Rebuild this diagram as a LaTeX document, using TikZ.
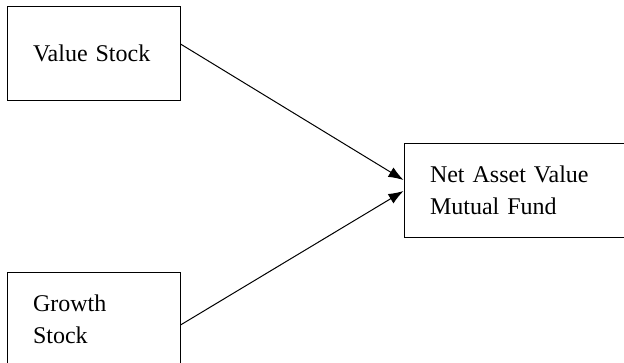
\documentclass[tikz,border=0pt]{standalone}
\usepackage{fontspec}
\setmainfont{Liberation Serif}
\usetikzlibrary{arrows.meta}

\tikzset{
    stockbox/.style={draw, rectangle, line width=1pt, align=left, inner xsep=26pt,
        minimum height=94pt, font=\fontsize{24}{32}\selectfont}
}

\begin{document}
\begin{tikzpicture}[x=1pt, y=-1pt, >={Latex[length=15pt, width=11pt]}]
    \useasboundingbox (0,0) rectangle (624,362);
    \clip (0,0) rectangle (624,362);

    \node[stockbox, text width=121pt] (value) at (93.5,53) {Value Stock};
    \node[stockbox, text width=121pt] (growth) at (93.5,319) {Growth\\Stock};
    \node[stockbox, text width=174pt] (nav) at (517,190) {Net Asset Value\\Mutual Fund};

    \draw[->, line width=1pt] ([yshift=9pt]value.east) -- ([yshift=10pt]nav.west);
    \draw[->, line width=1pt] ([yshift=-6pt]growth.east) -- ([yshift=-1pt]nav.west);
\end{tikzpicture}
\end{document}
